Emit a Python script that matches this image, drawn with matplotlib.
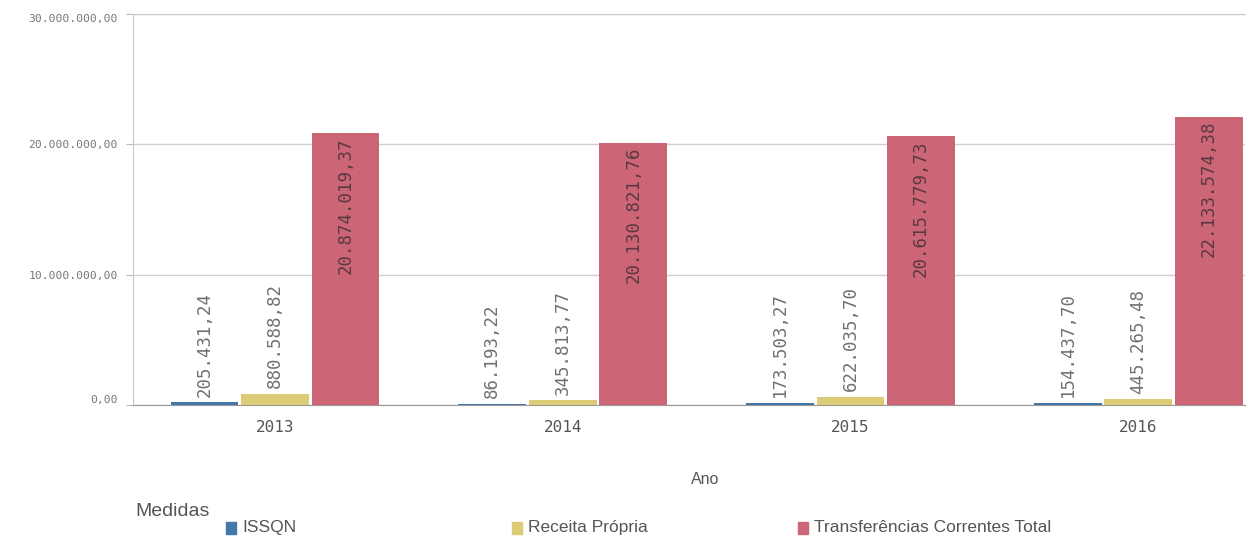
import matplotlib
matplotlib.use('Agg')
import matplotlib.pyplot as plt
from matplotlib.patches import Rectangle
import numpy as np

anos = ['2013', '2014', '2015', '2016']
issqn = [205431.24, 86193.22, 173503.27, 154437.70]
receita = [880588.82, 345813.77, 622035.70, 445265.48]
transf = [20874019.37, 20130821.76, 20615779.73, 22133574.38]

series = [('ISSQN', issqn, '#4477aa'),
          ('Receita Própria', receita, '#ddcc77'),
          ('Transferências Correntes Total', transf, '#cc6677')]

def fmt(v):
    s = f"{v:,.2f}"
    return s.replace(',', 'X').replace('.', ',').replace('X', '.')

mono = 'DejaVu Sans Mono'
narrow = ['Liberation Sans Narrow', 'Liberation Sans']

fig = plt.figure(figsize=(12.54, 5.4), dpi=100)
ax = fig.add_axes([0.106, 0.25, 0.887, 0.724])

x = np.arange(len(anos))
w = 0.245
for i, (nome, vals, cor) in enumerate(series):
    pos = x + (i - 1) * w
    ax.bar(pos, vals, width=w * 0.96, color=cor, zorder=3)
    for p, v in zip(pos, vals):
        if v > 5e6:
            ax.annotate(fmt(v), (p, v), xytext=(0, -3), textcoords='offset points',
                        rotation=90, ha='center', va='top', fontsize=12.5,
                        family=mono, color='#5a3840', zorder=4)
        else:
            ax.annotate(fmt(v), (p, v), xytext=(0, 4), textcoords='offset points',
                        rotation=90, ha='center', va='bottom', fontsize=12.5,
                        family=mono, color='#707070', zorder=4)

ax.set_xlim(-0.494, 3.372)
ax.set_ylim(0, 30000000)
ax.set_yticks([0, 10000000, 20000000, 30000000])
ax.set_yticklabels([fmt(v) for v in [0, 10000000, 20000000, 30000000]],
                   family=mono, fontsize=8.2, color='#777777')
labs = ax.get_yticklabels()
labs[0].set_va('bottom')
labs[-1].set_va('top')
ax.set_xticks(x)
ax.set_xticklabels(anos, family=mono, fontsize=11.5, color='#555555')
ax.tick_params(axis='y', length=5, color='#bbbbbb', pad=6)
ax.tick_params(axis='x', length=0, pad=11)
ax.grid(axis='y', color='#d0d0d0', lw=1, zorder=0)
for s in ['left', 'bottom', 'top']:
    ax.spines[s].set_color('#c8c8c8')
ax.spines['bottom'].set_color('#999999')
ax.spines['right'].set_visible(False)

fig.text(0.562, 0.112, 'Ano', ha='center', va='center', family=narrow,
         fontsize=11.5, color='#555555')

fig.text(0.108, 0.052, 'Medidas', ha='left', va='center', family=narrow,
         fontsize=14, color='#555555')
leg_x = [0.180, 0.408, 0.636]
for lx, (nome, vals, cor) in zip(leg_x, series):
    fig.add_artist(Rectangle((lx, 0.012), 0.0085, 0.022, transform=fig.transFigure,
                             color=cor))
    fig.text(lx + 0.013, 0.024, nome, ha='left', va='center', family=narrow,
             fontsize=12.5, color='#555555')

fig.savefig('out.png', dpi=100)
